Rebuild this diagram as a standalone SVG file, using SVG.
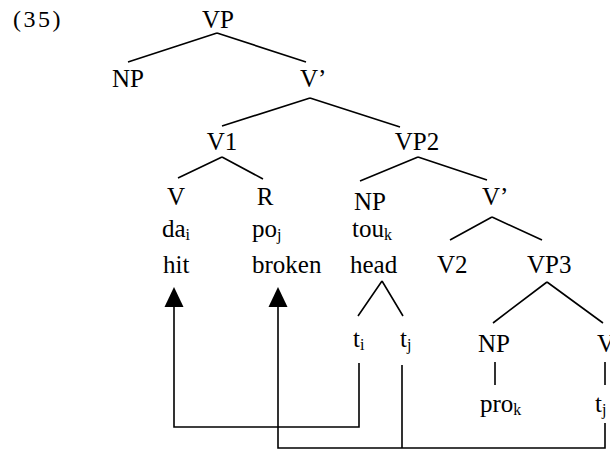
<svg xmlns="http://www.w3.org/2000/svg" width="610" height="451" viewBox="0 0 610 451">
<style>
text{font-family:"Liberation Serif","Times New Roman",serif;font-size:25px;fill:#000}
.m{text-anchor:middle}
.sub{font-size:16px}
.e{stroke:#000;stroke-width:1.6;fill:none}
.a{stroke:#000;stroke-width:1.6;fill:none}
</style>
<rect width="610" height="451" fill="#fff"/>
<text x="13" y="27" style="font-size:24px;letter-spacing:2.5px">(35)</text>
<g id="edges">
<path class="e" d="M217,33 L128,62 M217,33 L306,62"/>
<path class="e" d="M310,98 L222,126 M310,98 L400,127"/>
<path class="e" d="M222,157 L178,178 M222,157 L263,179"/>
<path class="e" d="M418,157 L360,181 M418,157 L487,180"/>
<path class="e" d="M492,217 L450,240 M492,217 L542,240"/>
<path class="e" d="M382,281 L358,316 M382,281 L403,316"/>
<path class="e" d="M547,282 L493,323 M547,282 L603,323"/>
<path class="e" d="M495,362 L495,385 M605,362 L605,385"/>
</g>
<g id="arrows">
<path class="a" d="M359,363 L359,427 L174,427 L174,306"/>
<path class="a" d="M402,365 L402,448 M605,423 L605,448 L278,448 L278,306"/>
<path d="M164.5,307 L174,287 L183.5,307 Z" fill="#000"/>
<path d="M268.5,307 L278,287 L287.5,307 Z" fill="#000"/>
</g>
<g id="n-vp"><text class="m" x="218" y="28">VP</text></g>
<g id="n-np1"><text class="m" x="128" y="87">NP</text></g>
<g id="n-vbar1"><text x="300" y="87">V’</text></g>
<g id="n-v1"><text class="m" x="222" y="150">V1</text></g>
<g id="n-vp2"><text class="m" x="417" y="150">VP2</text></g>
<g id="n-v"><text class="m" x="176" y="205">V</text>
<text x="162" y="237">da<tspan class="sub" dy="3">i</tspan></text>
<text x="163" y="273">hit</text></g>
<g id="n-r"><text class="m" x="265" y="205">R</text>
<text x="252" y="237">po<tspan class="sub" dy="3">j</tspan></text>
<text x="252" y="273">broken</text></g>
<g id="n-np2"><text class="m" x="370" y="210">NP</text>
<text x="352" y="237">tou<tspan class="sub" dy="3">k</tspan></text>
<text x="350" y="273">head</text></g>
<g id="n-vbar2"><text x="482" y="205">V’</text></g>
<g id="n-v2"><text x="437" y="273">V2</text></g>
<g id="n-vp3"><text x="527" y="273">VP3</text></g>
<g id="n-ti"><text x="353" y="347">t<tspan class="sub" dy="3">i</tspan></text></g>
<g id="n-tj"><text x="400" y="347">t<tspan class="sub" dy="3">j</tspan></text></g>
<g id="n-np3"><text x="478" y="352">NP</text>
<text x="480" y="412">pro<tspan class="sub" dy="3">k</tspan></text></g>
<g id="n-v3"><text x="597" y="352">V</text>
<text x="595" y="412">t<tspan class="sub" dy="3">j</tspan></text></g>
</svg>
